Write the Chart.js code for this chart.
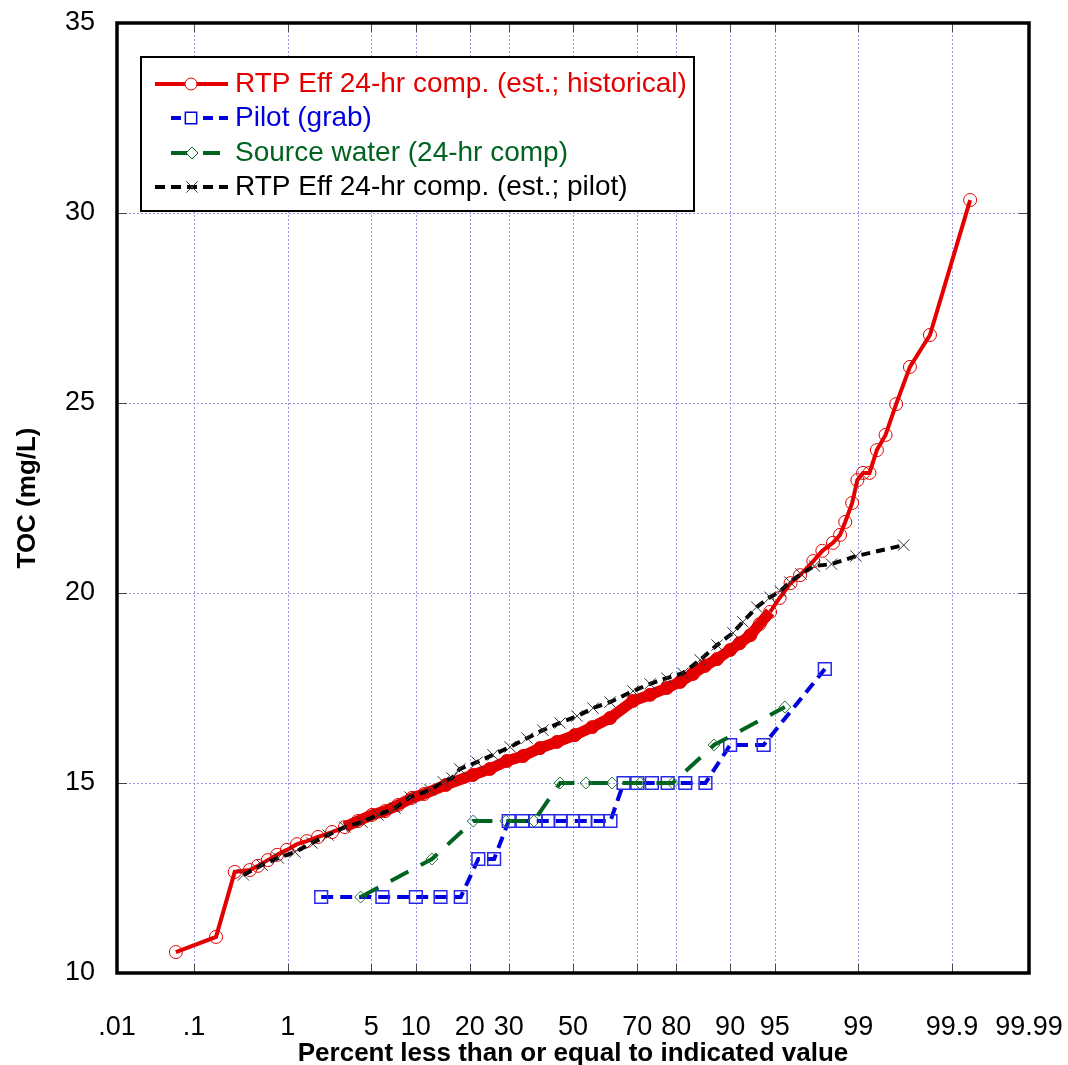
<!DOCTYPE html>
<html>
<head>
<meta charset="utf-8">
<script src="https://cdn.jsdelivr.net/npm/chart.js@4.4.1/dist/chart.umd.min.js"></script>
<style>
  html, body { margin: 0; padding: 0; background: #fff; }
  #wrap { width: 1068px; height: 1065px; }
</style>
</head>
<body>
<div id="wrap"><canvas id="toc" width="1068" height="1065"></canvas></div>
<script>
// --- probability axis ticks (percent) ---
const tickPercents = [0.01, 0.1, 1, 5, 10, 20, 30, 50, 70, 80, 90, 95, 99, 99.9, 99.99];
const tickLabels = ['.01', '.1', '1', '5', '10', '20', '30', '50', '70', '80', '90', '95', '99', '99.9', '99.99'];
const tocTicks = [10, 15, 20, 25, 30, 35];

// --- RTP Eff 24-hr comp. (est.; historical) ---
const redPct = [0.06, 0.18, 0.29, 0.42, 0.51, 0.64, 0.79, 0.98, 1.22, 1.50, 1.88, 2.47, 3.14, 3.97,
  5.05, 6.26, 7.68, 9.46, 11.2, 15.0, 20.7, 24.9, 29.5, 34.2, 39.4, 44.8, 50.6, 56.2, 61.9, 68.8,
  73.5, 77.8, 80.9, 83.6, 85.9, 88.0, 90.0, 91.3, 92.6, 93.6, 94.6, 95.4, 96.2, 96.8, 97.5, 97.9,
  98.30, 98.53, 98.68, 98.86, 98.98, 99.10, 99.22, 99.34, 99.46, 99.58, 99.70, 99.82, 99.94];
const redToc = [10.55, 10.95, 12.66, 12.71, 12.82, 12.97, 13.11, 13.24, 13.39, 13.47, 13.58, 13.71, 13.84, 14.00,
  14.16, 14.26, 14.42, 14.61, 14.71, 14.95, 15.21, 15.37, 15.58, 15.71, 15.92, 16.08, 16.26, 16.47, 16.71, 17.16,
  17.32, 17.50, 17.66, 17.87, 18.08, 18.26, 18.50, 18.68, 18.89, 19.18, 19.50, 19.87, 20.26, 20.47, 20.84, 21.11,
  21.32, 21.53, 21.87, 22.37, 22.97, 23.16, 23.16, 23.76, 24.16, 24.97, 25.95, 26.79, 30.34];

// --- Pilot (grab) ---
const pilotPct = [2, 6, 10, 14, 18, 22, 26, 30, 34, 38, 42, 46, 50, 54, 58, 62, 66, 70, 74, 78, 82, 86, 90, 94, 98];
const pilotToc = [12, 12, 12, 12, 12, 13, 13, 14, 14, 14, 14, 14, 14, 14, 14, 14, 15, 15, 15, 15, 15, 15, 16, 16, 18];

// --- Source water (24-hr comp) ---
const sourcePct = [4.17, 12.5, 20.8, 29.2, 37.5, 45.8, 54.2, 62.5, 70.8, 79.2, 87.5, 95.8];
const sourceToc = [12, 13, 14, 14, 14, 15, 15, 15, 15, 15, 16, 17];

// --- RTP Eff 24-hr comp. (est.; pilot) ---
const estPct = [0.36, 0.56, 0.81, 1.17, 1.66, 2.29, 3.14, 4.26, 5.58, 7.33, 9.18, 12.2, 14.5, 16.2, 17.8,
  21.7, 25.7, 30.4, 35.4, 40.3, 45.8, 51.3, 56.5, 61.9, 68.8, 73.5, 77.8, 81.5, 85.0, 88.0, 90.4, 91.7,
  93.3, 94.6, 95.45, 96.15, 96.85, 97.55, 98.25, 98.95, 99.65];
const estToc = [12.58, 12.84, 13.03, 13.18, 13.42, 13.63, 13.84, 13.97, 14.16, 14.34, 14.63, 14.82, 15.03, 15.13, 15.37,
  15.55, 15.74, 15.95, 16.18, 16.39, 16.58, 16.76, 16.97, 17.13, 17.42, 17.61, 17.76, 17.89, 18.24, 18.63, 18.95, 19.24,
  19.63, 19.89, 20.05, 20.29, 20.50, 20.71, 20.76, 20.97, 21.26];

const RED = 'rgb(228,0,0)';
const BLUE = 'rgb(0,0,222)';
const GREEN = 'rgb(0,100,32)';
const GRID = 'rgb(150,150,235)';

// inverse normal CDF (Acklam) -> normal probability axis
function probit(p) {
  const a = [-3.969683028665376e+01, 2.209460984245205e+02, -2.759285104469687e+02, 1.383577518672690e+02, -3.066479806614716e+01, 2.506628277459239e+00];
  const b = [-5.447609879822406e+01, 1.615858368580409e+02, -1.556989798598866e+02, 6.680131188771972e+01, -1.328068155288572e+01];
  const c = [-7.784894002430293e-03, -3.223964580411365e-01, -2.400758277161838e+00, -2.549732539343734e+00, 4.374664141464968e+00, 2.938163982698783e+00];
  const d = [7.784695709041462e-03, 3.224671290700398e-01, 2.445134137142996e+00, 3.754408661907416e+00];
  const pl = 0.02425;
  let q, r;
  if (p < pl) {
    q = Math.sqrt(-2 * Math.log(p));
    return (((((c[0] * q + c[1]) * q + c[2]) * q + c[3]) * q + c[4]) * q + c[5]) / ((((d[0] * q + d[1]) * q + d[2]) * q + d[3]) * q + 1);
  }
  if (p <= 1 - pl) {
    q = p - 0.5; r = q * q;
    return (((((a[0] * r + a[1]) * r + a[2]) * r + a[3]) * r + a[4]) * r + a[5]) * q / (((((b[0] * r + b[1]) * r + b[2]) * r + b[3]) * r + b[4]) * r + 1);
  }
  q = Math.sqrt(-2 * Math.log(1 - p));
  return -(((((c[0] * q + c[1]) * q + c[2]) * q + c[3]) * q + c[4]) * q + c[5]) / ((((d[0] * q + d[1]) * q + d[2]) * q + d[3]) * q + 1);
}

const toPoints = (pct, vals) => pct.map((p, i) => ({ x: probit(p / 100), y: vals[i] }));

Chart.defaults.font.family = "'Liberation Sans', Arial, sans-serif";
Chart.defaults.color = '#000';

// small marker helpers for the hand-drawn legend
function marker(ctx, style, x, y, r, color, lw) {
  ctx.save();
  ctx.strokeStyle = color; ctx.lineWidth = lw; ctx.setLineDash([]);
  ctx.fillStyle = '#fff';
  ctx.beginPath();
  if (style === 'circle') { ctx.arc(x, y, r, 0, Math.PI * 2); ctx.fill(); }
  else if (style === 'rect') { const s = r * Math.SQRT1_2; ctx.rect(x - s, y - s, 2 * s, 2 * s); ctx.fill(); }
  else if (style === 'rectRot') { ctx.moveTo(x - r, y); ctx.lineTo(x, y - r); ctx.lineTo(x + r, y); ctx.lineTo(x, y + r); ctx.closePath(); ctx.fill(); }
  else if (style === 'crossRot') { const s = r * Math.SQRT1_2; ctx.moveTo(x - s, y - s); ctx.lineTo(x + s, y + s); ctx.moveTo(x - s, y + s); ctx.lineTo(x + s, y - s); }
  ctx.stroke();
  ctx.restore();
}

function seg(ctx, x1, x2, y, color, dash) {
  ctx.save();
  ctx.strokeStyle = color; ctx.lineWidth = 4; ctx.setLineDash(dash);
  ctx.beginPath(); ctx.moveTo(x1, y); ctx.lineTo(x2, y); ctx.stroke();
  ctx.restore();
}

const frame = {
  id: 'frame',
  beforeDatasetsDraw(chart) {
    const { ctx, chartArea: a, scales: { x, y } } = chart;
    ctx.save();
    ctx.strokeStyle = GRID; ctx.lineWidth = 1; ctx.setLineDash([2, 2]);
    x.ticks.forEach(t => {
      const px = Math.round(x.getPixelForValue(t.value)) + 0.5;
      if (px < a.left + 3 || px > a.right - 3) return;
      ctx.beginPath(); ctx.moveTo(px, a.top); ctx.lineTo(px, a.bottom); ctx.stroke();
    });
    y.ticks.forEach(t => {
      const py = Math.round(y.getPixelForValue(t.value)) + 0.5;
      if (py < a.top + 3 || py > a.bottom - 3) return;
      ctx.beginPath(); ctx.moveTo(a.left, py); ctx.lineTo(a.right, py); ctx.stroke();
    });
    ctx.restore();
  },
  afterDatasetsDraw(chart) {
    const { ctx, chartArea: a, scales: { x, y } } = chart;
    ctx.save();
    // inward tick marks
    ctx.strokeStyle = 'rgb(70,70,70)'; ctx.lineWidth = 1; ctx.setLineDash([]);
    x.ticks.forEach(t => {
      const px = Math.round(x.getPixelForValue(t.value)) + 0.5;
      ctx.beginPath();
      ctx.moveTo(px, a.bottom); ctx.lineTo(px, a.bottom - 9);
      ctx.moveTo(px, a.top); ctx.lineTo(px, a.top + 9);
      ctx.stroke();
    });
    y.ticks.forEach(t => {
      const py = Math.round(y.getPixelForValue(t.value)) + 0.5;
      ctx.beginPath();
      ctx.moveTo(a.left, py); ctx.lineTo(a.left + 10, py);
      ctx.moveTo(a.right, py); ctx.lineTo(a.right - 10, py);
      ctx.stroke();
    });
    // plot frame
    ctx.strokeStyle = '#000'; ctx.lineWidth = 3.5;
    ctx.strokeRect(a.left, a.top, a.right - a.left, a.bottom - a.top);

    // legend box
    const L = 141, T = 57, R = 694, B = 211;
    ctx.fillStyle = '#fff'; ctx.fillRect(L, T, R - L, B - T);
    ctx.lineWidth = 2; ctx.strokeStyle = '#000'; ctx.strokeRect(L, T, R - L, B - T);

    seg(ctx, 155, 228, 84, RED, []);
    marker(ctx, 'circle', 191, 84, 6, RED, 1);
    seg(ctx, 171, 228, 118, BLUE, [10, 6]);
    marker(ctx, 'rect', 191, 118, 8, BLUE, 1.5);
    seg(ctx, 171, 226, 153, GREEN, [17, 15]);
    marker(ctx, 'rectRot', 192, 153, 6, GREEN, 1);
    seg(ctx, 155, 228, 187, '#000', [10, 6]);
    marker(ctx, 'crossRot', 192, 187, 8, 'rgb(60,60,60)', 1);

    ctx.font = "28px 'Liberation Sans', Arial, sans-serif";
    ctx.textAlign = 'left'; ctx.textBaseline = 'middle';
    ctx.fillStyle = RED; ctx.fillText('RTP Eff 24-hr comp. (est.; historical)', 235, 84);
    ctx.fillStyle = BLUE; ctx.fillText('Pilot (grab)', 235, 118);
    ctx.fillStyle = GREEN; ctx.fillText('Source water (24-hr comp)', 235, 153);
    ctx.fillStyle = '#000'; ctx.fillText('RTP Eff 24-hr comp. (est.; pilot)', 235, 187);

    // axis titles
    ctx.font = "bold 26px 'Liberation Sans', Arial, sans-serif";
    ctx.textAlign = 'center'; ctx.textBaseline = 'alphabetic';
    ctx.fillText('Percent less than or equal to indicated value', (a.left + a.right) / 2, 1061);
    ctx.translate(35, (a.top + a.bottom) / 2);
    ctx.rotate(-Math.PI / 2);
    ctx.fillText('TOC (mg/L)', 0, 0);
    ctx.restore();
  }
};

new Chart(document.getElementById('toc'), {
  type: 'scatter',
  data: {
    datasets: [{
      label: 'RTP Eff 24-hr comp. (est.; historical)',
      data: toPoints(redPct, redToc),
      showLine: true,
      borderColor: RED,
      borderWidth: 4,
      pointStyle: 'circle',
      pointRadius: 6.5,
      pointBorderWidth: 1,
      pointBorderColor: RED,
      pointBackgroundColor: c => (redPct[c.dataIndex] > 12 && redPct[c.dataIndex] < 93) ? RED : 'rgba(0,0,0,0)',
      segment: {
        borderWidth: c => (redPct[c.p0DataIndex] > 2.5 && redPct[c.p1DataIndex] < 95) ? 11 : 4
      },
      order: 4
    }, {
      label: 'Pilot (grab)',
      data: toPoints(pilotPct, pilotToc),
      showLine: true,
      borderColor: BLUE,
      borderWidth: 4,
      borderDash: [12, 7],
      pointStyle: 'rect',
      pointRadius: 9,
      pointBorderWidth: 1.5,
      pointBorderColor: 'rgb(40,40,235)',
      pointBackgroundColor: 'rgba(0,0,0,0)',
      order: 3
    }, {
      label: 'Source water (24-hr comp)',
      data: toPoints(sourcePct, sourceToc),
      showLine: true,
      borderColor: GREEN,
      borderWidth: 4,
      borderDash: [20, 14],
      pointStyle: 'rectRot',
      pointRadius: 6,
      pointBorderWidth: 1,
      pointBorderColor: 'rgb(40,120,60)',
      pointBackgroundColor: 'rgba(0,0,0,0)',
      order: 2
    }, {
      label: 'RTP Eff 24-hr comp. (est.; pilot)',
      data: toPoints(estPct, estToc),
      showLine: true,
      borderColor: '#000',
      borderWidth: 4,
      borderDash: [9, 6],
      pointStyle: 'crossRot',
      pointRadius: 8,
      pointBorderWidth: 1,
      pointBorderColor: 'rgb(50,50,50)',
      pointBackgroundColor: 'rgba(0,0,0,0)',
      order: 1
    }]
  },
  options: {
    responsive: false,
    animation: false,
    devicePixelRatio: 1,
    layout: { padding: { top: 23, right: 39, left: 0, bottom: 0 } },
    plugins: { legend: { display: false }, tooltip: { enabled: false } },
    scales: {
      x: {
        type: 'linear',
        min: probit(tickPercents[0] / 100),
        max: probit(tickPercents[tickPercents.length - 1] / 100),
        afterBuildTicks: s => { s.ticks = tickPercents.map(p => ({ value: probit(p / 100) })); },
        afterFit: s => { s.height = 92; s.paddingLeft = 0; s.paddingRight = 0; },
        grid: { display: false, drawTicks: false },
        border: { display: false },
        ticks: {
          autoSkip: false, maxRotation: 0, padding: 38,
          font: { size: 27 },
          callback: (v, i) => tickLabels[i]
        }
      },
      y: {
        min: tocTicks[0],
        max: tocTicks[tocTicks.length - 1],
        afterBuildTicks: s => { s.ticks = tocTicks.map(v => ({ value: v })); },
        afterFit: s => { s.width = 117; s.paddingTop = 0; s.paddingBottom = 0; },
        grid: { display: false, drawTicks: false },
        border: { display: false },
        ticks: { padding: 22, font: { size: 27 } }
      }
    }
  },
  plugins: [frame]
});
</script>
</body>
</html>
